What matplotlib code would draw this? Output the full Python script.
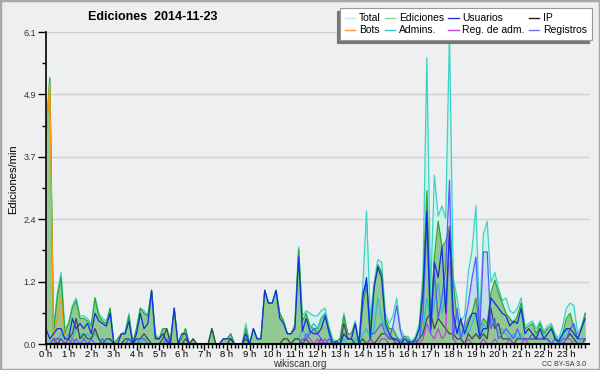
import numpy as np
import matplotlib
matplotlib.use("Agg")
import matplotlib.pyplot as plt
from matplotlib.lines import Line2D
from matplotlib.patches import Rectangle

# editions per minute, 10-minute steps, 2014-11-23
total = [4.1, 5.2, 0.3, 1.0, 1.4, 0.3, 0.4, 0.75, 0.9, 0.55, 0.55, 0.5, 0.4, 0.9, 0.6, 0.5, 0.45, 0.7, 0.0, 0.1, 0.2, 0.25, 0.6, 0.05,
         0.3, 0.7, 0.65, 0.55, 1.05, 0.2, 0.1, 0.3, 0.3, 0.1, 0.7, 0.0, 0.1, 0.3, 0.0, 0.1, 0.0, 0.0, 0.0, 0.0, 0.3, 0.0, 0.0, 0.1,
         0.1, 0.2, 0.0, 0.0, 0.0, 0.4, 0.0, 0.3, 0.1, 0.1, 1.05, 0.8, 0.8, 1.05, 0.6, 0.45, 0.2, 0.2, 0.4, 1.9, 0.55, 0.65, 0.6, 0.55,
         0.55, 0.65, 0.7, 0.35, 0.1, 0.05, 0.1, 0.6, 0.2, 0.2, 0.45, 0.05, 1.1, 2.6, 0.5, 1.2, 1.65, 1.6, 0.6, 0.4, 0.55, 0.9, 0.3, 0.15,
         0.15, 0.05, 0.15, 0.4, 1.4, 5.6, 1.0, 3.3, 2.5, 2.7, 2.45, 6.1, 1.3, 0.9, 0.45, 0.55, 1.4, 1.85, 2.7, 0.5, 2.15, 2.4, 1.2, 1.4,
         1.1, 0.85, 0.9, 0.65, 0.6, 0.7, 0.9, 0.35, 0.4, 0.45, 0.3, 0.45, 0.25, 0.35, 0.4, 0.2, 0.1, 0.35, 0.7, 0.8, 0.75, 0.2, 0.35, 0.6]

ediciones = [4.0, 5.2, 0.2, 0.9, 1.3, 0.2, 0.4, 0.7, 0.85, 0.5, 0.5, 0.45, 0.35, 0.9, 0.55, 0.45, 0.4, 0.7, 0.0, 0.1, 0.2, 0.2, 0.55, 0.0,
             0.3, 0.7, 0.6, 0.55, 1.05, 0.15, 0.1, 0.3, 0.3, 0.05, 0.7, 0.0, 0.1, 0.3, 0.0, 0.1, 0.0, 0.0, 0.0, 0.0, 0.3, 0.0, 0.0, 0.1,
             0.1, 0.2, 0.0, 0.0, 0.0, 0.3, 0.0, 0.3, 0.1, 0.1, 1.05, 0.8, 0.8, 1.05, 0.6, 0.45, 0.2, 0.2, 0.35, 1.85, 0.45, 0.6, 0.35, 0.3,
             0.3, 0.5, 0.6, 0.3, 0.05, 0.05, 0.1, 0.55, 0.2, 0.2, 0.4, 0.0, 0.7, 1.2, 0.3, 1.1, 1.55, 1.4, 0.5, 0.3, 0.3, 0.15, 0.05, 0.15,
             0.1, 0.0, 0.1, 0.3, 1.2, 3.0, 0.5, 1.7, 2.4, 1.9, 2.0, 2.3, 1.2, 0.5, 0.4, 0.3, 0.5, 0.6, 0.9, 0.3, 0.5, 0.4, 1.0, 1.25,
             1.0, 0.8, 0.6, 0.5, 0.4, 0.55, 0.8, 0.3, 0.35, 0.4, 0.2, 0.4, 0.2, 0.3, 0.35, 0.15, 0.05, 0.2, 0.5, 0.6, 0.3, 0.1, 0.3, 0.6]

usuarios = [0.3, 0.1, 0.2, 0.3, 0.3, 0.1, 0.1, 0.5, 0.3, 0.4, 0.3, 0.4, 0.2, 0.6, 0.45, 0.4, 0.35, 0.6, 0.0, 0.0, 0.2, 0.2, 0.45, 0.0,
            0.2, 0.6, 0.3, 0.4, 1.05, 0.1, 0.1, 0.2, 0.05, 0.0, 0.7, 0.0, 0.2, 0.2, 0.0, 0.0, 0.0, 0.0, 0.0, 0.0, 0.0, 0.0, 0.0, 0.1,
            0.1, 0.1, 0.0, 0.0, 0.0, 0.2, 0.0, 0.3, 0.1, 0.1, 1.05, 0.8, 0.8, 1.05, 0.5, 0.4, 0.2, 0.2, 0.3, 1.7, 0.25, 0.5, 0.25, 0.2,
            0.2, 0.3, 0.55, 0.25, 0.0, 0.05, 0.0, 0.2, 0.1, 0.1, 0.4, 0.0, 0.9, 1.3, 0.1, 1.1, 1.5, 1.3, 0.4, 0.2, 0.1, 0.1, 0.0, 0.1,
            0.05, 0.0, 0.1, 0.3, 1.0, 2.6, 0.3, 1.6, 1.3, 1.9, 0.6, 2.2, 0.6, 0.2, 0.5, 0.2, 0.4, 0.6, 0.6, 0.15, 0.3, 0.3, 0.9, 0.8,
            0.7, 0.6, 0.55, 0.35, 0.45, 0.4, 0.7, 0.2, 0.3, 0.2, 0.1, 0.3, 0.1, 0.2, 0.3, 0.1, 0.05, 0.2, 0.3, 0.3, 0.2, 0.1, 0.3, 0.5]

ip = [0.0, 0.0, 0.1, 0.0, 0.1, 0.0, 0.1, 0.2, 0.5, 0.1, 0.2, 0.1, 0.1, 0.3, 0.1, 0.0, 0.1, 0.1, 0.0, 0.0, 0.0, 0.1, 0.1, 0.0,
      0.1, 0.1, 0.2, 0.1, 0.0, 0.0, 0.0, 0.1, 0.3, 0.0, 0.0, 0.0, 0.0, 0.1, 0.0, 0.1, 0.0, 0.0, 0.0, 0.0, 0.3, 0.0, 0.0, 0.0,
      0.0, 0.1, 0.0, 0.0, 0.0, 0.1, 0.0, 0.0, 0.0, 0.0, 0.0, 0.0, 0.0, 0.0, 0.0, 0.1, 0.1, 0.0, 0.1, 0.1, 0.0, 0.1, 0.0, 0.0,
      0.0, 0.1, 0.0, 0.0, 0.0, 0.0, 0.0, 0.4, 0.1, 0.1, 0.0, 0.0, 0.1, 0.0, 0.1, 0.0, 0.1, 0.2, 0.2, 0.1, 0.1, 0.0, 0.0, 0.0,
      0.0, 0.0, 0.0, 0.1, 0.2, 0.5, 0.6, 0.3, 0.5, 0.4, 0.3, 0.2, 0.2, 0.1, 0.1, 0.0, 0.2, 0.1, 0.2, 0.1, 0.2, 0.1, 0.7, 0.3,
      0.4, 0.1, 0.1, 0.1, 0.0, 0.1, 0.1, 0.1, 0.1, 0.1, 0.1, 0.1, 0.1, 0.1, 0.0, 0.0, 0.0, 0.0, 0.1, 0.2, 0.1, 0.0, 0.0, 0.1]

bots = [4.0, 5.1, 0.1, 0.5, 0.9, 0.0, 0.0, 0.0, 0.0, 0.0, 0.0, 0.0, 0.0, 0.0, 0.0, 0.0, 0.0, 0.0, 0.0, 0.0, 0.0, 0.0, 0.0, 0.0,
        0.0, 0.0, 0.0, 0.0, 0.0, 0.0, 0.0, 0.0, 0.0, 0.0, 0.0, 0.0, 0.0, 0.0, 0.0, 0.0, 0.0, 0.0, 0.0, 0.0, 0.0, 0.0, 0.0, 0.0,
        0.0, 0.0, 0.0, 0.0, 0.0, 0.0, 0.0, 0.0, 0.0, 0.0, 0.0, 0.0, 0.0, 0.0, 0.0, 0.0, 0.0, 0.0, 0.0, 0.0, 0.0, 0.0, 0.0, 0.0,
        0.0, 0.0, 0.0, 0.0, 0.0, 0.0, 0.0, 0.0, 0.0, 0.0, 0.0, 0.0, 0.0, 0.0, 0.0, 0.0, 0.0, 0.0, 0.0, 0.0, 0.0, 0.0, 0.0, 0.0,
        0.0, 0.0, 0.0, 0.0, 0.0, 0.0, 0.0, 0.0, 0.0, 0.0, 0.0, 0.0, 0.0, 0.0, 0.0, 0.0, 0.0, 0.0, 0.0, 0.0, 0.0, 0.0, 0.0, 0.0,
        0.0, 0.0, 0.0, 0.0, 0.0, 0.0, 0.0, 0.0, 0.0, 0.0, 0.0, 0.0, 0.0, 0.0, 0.0, 0.0, 0.0, 0.0, 0.0, 0.0, 0.0, 0.0, 0.0, 0.0]

admins = [0.0, 0.0, 0.0, 0.1, 0.2, 0.1, 0.2, 0.1, 0.3, 0.2, 0.1, 0.2, 0.1, 0.2, 0.1, 0.1, 0.0, 0.1, 0.0, 0.0, 0.0, 0.0, 0.1, 0.0,
          0.1, 0.0, 0.1, 0.1, 0.0, 0.0, 0.0, 0.0, 0.0, 0.0, 0.0, 0.0, 0.0, 0.0, 0.0, 0.0, 0.0, 0.0, 0.0, 0.0, 0.0, 0.0, 0.0, 0.0,
          0.0, 0.0, 0.0, 0.0, 0.0, 0.1, 0.0, 0.0, 0.0, 0.0, 0.0, 0.0, 0.0, 0.0, 0.0, 0.0, 0.0, 0.0, 0.1, 0.1, 0.3, 0.1, 0.3, 0.4,
          0.3, 0.5, 0.6, 0.2, 0.0, 0.0, 0.0, 0.1, 0.0, 0.0, 0.1, 0.0, 0.2, 0.3, 0.1, 0.3, 0.9, 0.5, 0.3, 0.2, 0.1, 0.1, 0.1, 0.0,
          0.0, 0.0, 0.0, 0.1, 0.3, 0.9, 0.4, 0.8, 1.2, 0.6, 1.0, 1.6, 0.4, 0.3, 0.1, 0.3, 0.2, 0.4, 0.6, 0.1, 0.4, 0.3, 0.5, 0.4,
          0.2, 0.3, 0.2, 0.1, 0.2, 0.1, 0.2, 0.1, 0.1, 0.2, 0.1, 0.1, 0.1, 0.1, 0.0, 0.1, 0.0, 0.1, 0.3, 0.2, 0.1, 0.0, 0.1, 0.1]

reg_adm = [0.0, 0.0, 0.0, 0.1, 0.1, 0.0, 0.0, 0.1, 0.0, 0.0, 0.0, 0.0, 0.0, 0.0, 0.0, 0.0, 0.0, 0.0, 0.0, 0.0, 0.0, 0.0, 0.0, 0.0,
           0.0, 0.0, 0.0, 0.0, 0.0, 0.0, 0.0, 0.0, 0.0, 0.0, 0.0, 0.0, 0.0, 0.0, 0.0, 0.0, 0.0, 0.0, 0.0, 0.0, 0.0, 0.0, 0.0, 0.0,
           0.0, 0.0, 0.0, 0.0, 0.0, 0.0, 0.0, 0.0, 0.0, 0.0, 0.0, 0.0, 0.0, 0.0, 0.0, 0.0, 0.0, 0.0, 0.0, 0.0, 0.0, 0.2, 0.1, 0.0,
           0.1, 0.0, 0.1, 0.0, 0.0, 0.0, 0.0, 0.0, 0.0, 0.0, 0.0, 0.0, 0.0, 0.0, 0.1, 0.0, 0.0, 0.1, 0.1, 0.0, 0.0, 0.1, 0.0, 0.0,
           0.0, 0.0, 0.0, 0.0, 0.1, 0.4, 0.2, 0.1, 0.3, 0.1, 0.2, 2.3, 0.1, 0.0, 0.0, 0.0, 0.1, 0.0, 0.0, 0.0, 0.1, 0.0, 0.0, 0.1,
           0.0, 0.0, 0.0, 0.1, 0.0, 0.0, 0.0, 0.1, 0.0, 0.0, 0.0, 0.0, 0.0, 0.0, 0.0, 0.0, 0.0, 0.0, 0.1, 0.1, 0.0, 0.0, 0.0, 0.0]

registros = [0.0, 0.0, 0.1, 0.1, 0.1, 0.0, 0.1, 0.0, 0.1, 0.0, 0.1, 0.0, 0.1, 0.0, 0.0, 0.1, 0.0, 0.0, 0.0, 0.0, 0.0, 0.0, 0.1, 0.0,
             0.0, 0.1, 0.1, 0.0, 0.0, 0.0, 0.0, 0.0, 0.1, 0.0, 0.0, 0.0, 0.0, 0.0, 0.0, 0.0, 0.0, 0.0, 0.0, 0.0, 0.0, 0.0, 0.0, 0.0,
             0.0, 0.0, 0.0, 0.0, 0.0, 0.0, 0.0, 0.0, 0.0, 0.0, 0.0, 0.0, 0.0, 0.0, 0.0, 0.0, 0.0, 0.0, 0.0, 0.0, 0.1, 0.1, 0.2, 0.3,
             0.2, 0.1, 0.0, 0.1, 0.0, 0.0, 0.0, 0.0, 0.0, 0.0, 0.0, 0.0, 1.0, 1.2, 0.2, 0.2, 0.3, 0.4, 0.2, 0.1, 0.35, 0.75, 0.25, 0.0,
             0.05, 0.05, 0.05, 0.1, 0.6, 2.4, 0.2, 1.4, 0.5, 0.9, 1.5, 3.2, 0.1, 0.7, 0.1, 0.4, 0.8, 1.3, 1.7, 0.2, 1.8, 1.8, 0.3, 0.5,
             0.1, 0.2, 0.3, 0.2, 0.1, 0.3, 0.1, 0.1, 0.1, 0.2, 0.1, 0.1, 0.1, 0.1, 0.0, 0.1, 0.0, 0.1, 0.1, 0.3, 0.4, 0.1, 0.1, 0.1]

hour_labels = [f"{h} h" for h in range(24)]
y_ticks = [0.0, 1.22, 2.44, 3.66, 4.88, 6.1]
y_labels = ["0.0", "1.2", "2.4", "3.7", "4.9", "6.1"]

plt.rcParams["font.family"] = ["Liberation Sans", "DejaVu Sans"]

x = np.arange(len(total)) / 6.0
bg = "#eeeff1"

fig = plt.figure(figsize=(6, 3.7), dpi=100, facecolor=bg)
ax = fig.add_axes([46 / 600, 26 / 370, 543 / 600, 312 / 370])
ax.set_facecolor(bg)

# fills
ax.fill_between(x, total, color="#d2f0ea", lw=0)
ax.fill_between(x, registros, color="#c4dcec", lw=0)
ax.fill_between(x, ediciones, color="#92c892", lw=0)

lw = 0.9
ax.plot(x, total, color="#38d4c4", lw=lw)
ax.plot(x, ediciones, color="#2fa82f", lw=lw)
ax.plot(x, bots, color="#ff9a10", lw=lw)
ax.plot(x, admins, color="#22c2d6", lw=lw)
ax.plot(x, ip, color="#404848", lw=lw)
ax.plot(x, reg_adm, color="#c040e0", lw=lw)
ax.plot(x, registros, color="#5a5aff", lw=lw)
ax.plot(x, usuarios, color="#1030e0", lw=lw)

ax.set_xlim(0, 24)
ax.set_ylim(0, 6.1)
ax.set_yticks(y_ticks)
ax.set_yticklabels(y_labels)
ax.set_yticks([0.61, 1.83, 3.05, 4.27, 5.49], minor=True)
ax.set_xticks(range(24))
ax.set_xticklabels(hour_labels)
ax.set_xticks(np.arange(0, 24, 1 / 6), minor=True)
ax.grid(axis="y", which="major", color="#cfcfcf", lw=1)
ax.set_axisbelow(True)

for s in ["top", "right"]:
    ax.spines[s].set_visible(False)
ax.spines["left"].set_linewidth(1.2)
ax.spines["bottom"].set_linewidth(1.5)
ax.tick_params(axis="y", which="major", length=6, width=1, labelsize=6.5, labelcolor="#333333", pad=1)
ax.tick_params(axis="y", which="minor", length=3, width=1)
ax.tick_params(axis="x", which="major", length=4, width=1, labelsize=6.8, pad=0)
ax.tick_params(axis="x", which="minor", length=3, width=1)

colors = {"Total": "#b8ece4", "Ediciones": "#92d092", "Usuarios": "#3030dd", "IP": "#222222",
          "Bots": "#ff9a30", "Admins.": "#30c8d8", "Reg. de adm.": "#c040e0", "Registros": "#7070ff"}
# column order for a 4x2 legend filled row by row
order = ["Total", "Bots", "Ediciones", "Admins.", "Usuarios", "Reg. de adm.", "IP", "Registros"]
handles = [Line2D([], [], color=colors[k], lw=1) for k in order]
leg = ax.legend(handles, order, ncol=4, loc="upper right", bbox_to_anchor=(1.006, 1.077),
                fontsize=7.5, frameon=True, fancybox=False,
                shadow={"ox": -2, "oy": -2, "color": "#777777", "alpha": 1},
                handlelength=1.0, handletextpad=0.35, columnspacing=0.4, labelspacing=0.2,
                borderpad=0.5, borderaxespad=0.0)
leg.get_frame().set_edgecolor("#999999")
leg.get_frame().set_linewidth(0.8)
leg.get_frame().set_alpha(1)

fig.text(0.255, 0.953, "Ediciones  2014-11-23", ha="center", va="center", fontsize=9, fontweight="bold")
fig.text(0.022, 0.515, "Ediciones/min", rotation=90, ha="center", va="center", fontsize=8)
fig.text(0.5, 0.016, "wikiscan.org", ha="center", va="center", fontsize=7, color="#333333")
fig.text(0.94, 0.014, "CC BY-SA 3.0", ha="center", va="center", fontsize=5, color="#333333")
fig.patches.append(Rectangle((0, 0), 1, 1, transform=fig.transFigure, fill=False,
                             edgecolor="#a8a8a8", lw=2.5))

fig.savefig("out.png", dpi=100, facecolor=bg)
